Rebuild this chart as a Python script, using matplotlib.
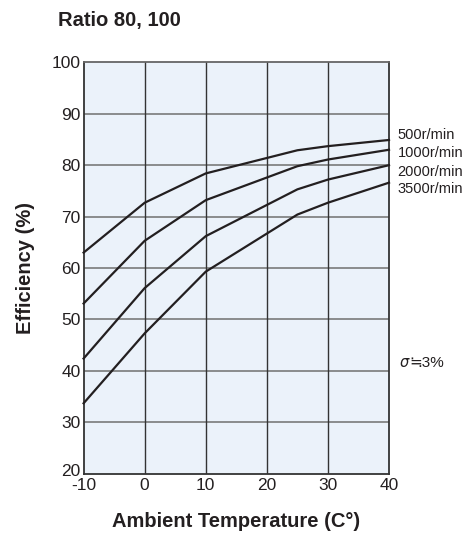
import numpy as np
import matplotlib
matplotlib.use('Agg')
import matplotlib.pyplot as plt
import matplotlib.transforms as mtransforms

temps = [-10, 0, 10, 25, 30, 40]
eff_500 = [63.0, 72.7, 78.4, 82.9, 83.7, 84.9]
eff_1000 = [53.1, 65.3, 73.2, 79.8, 81.1, 83.0]
eff_2000 = [42.4, 56.1, 66.2, 75.3, 77.2, 80.0]
eff_3500 = [33.7, 47.3, 59.3, 70.4, 72.7, 76.6]
series_labels = ['500r/min', '1000r/min', '2000r/min', '3500r/min']
label_y = [85.8, 82.3, 78.7, 75.3]
xticks = [-10, 0, 10, 20, 30, 40]
yticks = [20, 30, 40, 50, 60, 70, 80, 90, 100]

plt.rcParams['font.family'] = ['Liberation Sans', 'DejaVu Sans']

def main():
	fig = plt.figure(figsize=(4.67, 5.35), dpi=100)
	ax = fig.add_axes([0.179, 0.1145, 0.654, 0.769])
	ax.set_facecolor('#ebf2fa')

	for y in yticks[1:-1]:
		ax.axhline(y, color='#7a7a7a', lw=1.2, zorder=1)
	for x in xticks[1:-1]:
		ax.axvline(x, color='#333333', lw=1.0, zorder=1)

	for vals in [eff_500, eff_1000, eff_2000, eff_3500]:
		ax.plot(temps, vals, color='#231f20', lw=1.6, zorder=3, clip_on=False)

	for lab, y in zip(series_labels, label_y):
		ax.text(41.4, y, lab, fontsize=10.5, va='center', ha='left', color='#231f20')
	ax.text(41.6, 41.5, '$\\sigma$', fontsize=10.5, va='center', ha='left', color='#231f20')
	ax.text(43.4, 41.5, '≒3%', fontsize=11, va='center', ha='left', color='#231f20')

	ax.set_xlim(-10, 40)
	ax.set_ylim(20, 100)
	ax.set_xticks(xticks)
	ax.set_yticks(yticks)
	ax.set_xticklabels([str(t) for t in xticks])
	ax.tick_params(length=0, labelsize=12.5, pad=2, colors='#231f20')
	ax.tick_params(axis='x', pad=3)
	# nudge the bottom y label up so it clears "-10"
	lab20 = ax.get_yticklabels()[0]
	lab20.set_transform(lab20.get_transform() + mtransforms.ScaledTranslation(0, 3/72, fig.dpi_scale_trans))
	for s in ax.spines.values():
		s.set_color('#333333')
		s.set_linewidth(1.3)
	ax.spines['top'].set_color('#666666')

	ax.set_xlabel('Ambient Temperature (C°)', fontsize=14.5, fontweight='bold', color='#231f20')
	ax.xaxis.set_label_coords(0.5, -0.093)
	ax.set_ylabel('Efficiency (%)', fontsize=14.5, fontweight='bold', color='#231f20')
	ax.yaxis.set_label_coords(-0.16, 0.5)
	fig.text(0.124, 0.962, 'Ratio 80, 100', fontsize=14.5, fontweight='bold', ha='left', va='center', color='#231f20')

	fig.savefig('out.png', dpi=100)

main()
